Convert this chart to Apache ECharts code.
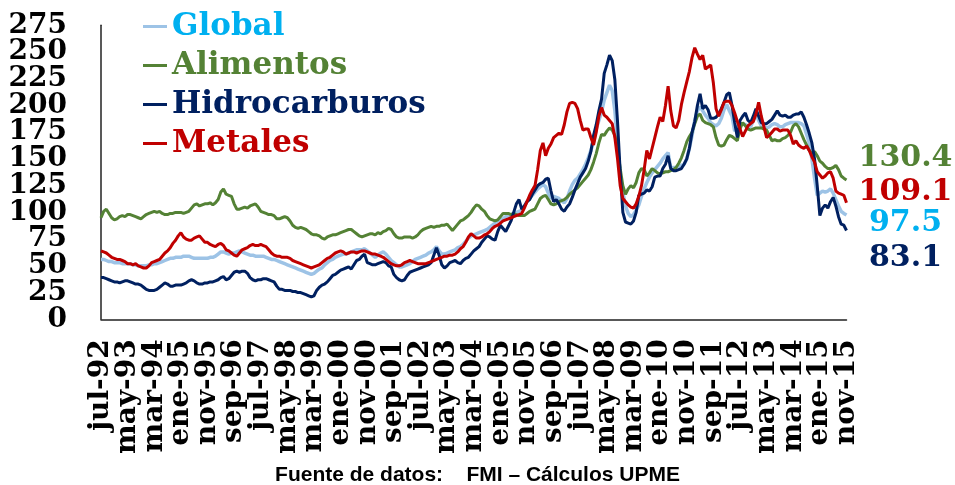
<!DOCTYPE html>
<html>
<head>
<meta charset="utf-8">
<script src="https://cdn.jsdelivr.net/npm/echarts@6/dist/echarts.min.js"></script>
<style>
  html, body { margin: 0; padding: 0; background: #ffffff; }
  #chart { width: 955px; height: 485px; }
</style>
</head>
<body>
<div id="chart"></div>
<script>
// Monthly price indices, jul-92 .. nov-15
const monthNames = ['ene', 'feb', 'mar', 'abr', 'may', 'jun', 'jul', 'ago', 'sep', 'oct', 'nov', 'dic'];
const firstMonth = 6;      // julio
const firstYear = 1992;
const monthCount = 281;

const yTicks = { min: 0, max: 275, step: 25 };

const seriesNames = ['Global', 'Alimentos', 'Hidrocarburos', 'Metales'];

const globalIdx = [
  56, 56, 55, 54, 54, 53, 53, 53, 52, 52,
  52, 52, 51, 51, 50, 50, 50, 50, 51, 51,
  52, 52, 53, 54, 55, 56, 57, 57, 58, 58,
  58, 59, 59, 59, 58, 57, 57, 57, 57, 57,
  57, 58, 58, 59, 61, 63, 63, 62, 61, 62,
  62, 63, 64, 63, 62, 61, 60, 60, 59, 59,
  59, 59, 58, 57, 56, 56, 55, 54, 53, 52,
  51, 50, 49, 48, 47, 46, 45, 44, 43, 42,
  43, 45, 47, 48, 51, 53, 55, 56, 58, 59,
  60, 61, 61, 62, 63, 64, 65, 65, 65, 66,
  64, 62, 60, 58, 60, 62, 63, 61, 58, 55,
  53, 51, 49, 49, 50, 51, 52, 54, 56, 57,
  58, 59, 60, 62, 63, 65, 68, 64, 61, 61,
  62, 63, 64, 65, 67, 68, 70, 73, 76, 78,
  79, 80, 81, 82, 83, 84, 86, 88, 90, 92,
  93, 94, 96, 97, 98, 99, 100, 101, 102, 106,
  110, 113, 116, 119, 122, 124, 126, 124, 118, 113,
  115, 114, 113, 111, 109, 113, 120, 126, 130, 132,
  136, 140, 145, 151, 158, 166, 178, 186, 194, 205,
  212, 219, 214, 195, 165, 135, 119, 106, 99, 96,
  98, 102, 107, 115, 122, 128, 133, 137, 140, 143,
  146, 150, 153, 156, 141, 142, 142, 143, 144, 145,
  150, 160, 172, 186, 195, 199, 195, 191, 188, 184,
  182, 181, 183, 188, 196, 201, 195, 190, 176, 180,
  183, 183, 182, 181, 180, 186, 192, 186, 181, 180,
  179, 180, 182, 183, 182, 180, 180, 182, 183, 184,
  184, 184, 184, 183, 181, 173, 165, 150, 132, 116,
  118, 120, 119, 120, 122, 118, 112, 106, 101, 99,
  97.5
];

const alimentos = [
  95, 101, 103, 99, 95, 93, 94, 96, 97, 96,
  98, 98, 97, 96, 95, 94, 96, 98, 99, 100,
  101, 100, 101, 99, 98, 98, 99, 99, 100, 100,
  100, 99, 100, 101, 104, 107, 108, 106, 107, 108,
  108, 109, 107, 109, 112, 119, 122, 117, 116, 115,
  108, 103, 103, 104, 105, 104, 106, 107, 108, 105,
  101, 100, 99, 98, 98, 97, 94, 94, 95, 96,
  95, 92, 88, 86, 85, 86, 85, 84, 82, 80,
  79, 79, 78, 76, 75, 77, 78, 79, 79, 80,
  81, 82, 83, 84, 84, 82, 80, 78, 77, 78,
  79, 80, 80, 79, 81, 80, 82, 83, 85, 84,
  80, 77, 76, 76, 77, 77, 77, 76, 77, 79,
  82, 84, 85, 86, 87, 86, 87, 87, 88, 88,
  89, 86, 83, 86, 89, 92, 93, 95, 97, 100,
  104, 107, 106, 103, 101, 97, 94, 93, 92, 93,
  96, 99, 99, 99, 98, 99, 98, 97, 97, 97,
  99, 101, 102, 103, 108, 113, 115, 116, 112, 108,
  107, 108, 110, 111, 112, 114, 117, 119, 121, 123,
  126, 129, 132, 135, 140, 147, 155, 165, 173, 172,
  176, 179, 177, 172, 160, 141, 125, 117, 122, 125,
  123, 128, 137, 141, 140, 134, 137, 141, 139, 137,
  136, 137, 138, 138, 139, 140, 142, 146, 151, 158,
  166, 171, 175, 183, 190, 192, 186, 184, 183, 182,
  180, 170, 163, 162, 163, 168, 172, 171, 169, 167,
  178, 184, 181, 178, 177, 178, 179, 179, 179, 178,
  177, 172, 167, 168, 167, 167, 169, 170, 172, 175,
  181, 183, 180, 174, 168, 163, 158, 155, 157, 153,
  148, 146, 143, 141, 141, 142, 144, 140, 134, 132,
  130.4
];

const hidrocarburos = [
  39, 39, 38, 37, 36, 35, 35, 34, 35, 36,
  36, 35, 34, 33, 33, 32, 30, 28, 27, 27,
  27, 28, 30, 32, 34, 33, 31, 31, 32, 32,
  32, 33, 34, 36, 37, 36, 34, 33, 33, 34,
  34, 35, 35, 36, 37, 39, 40, 37, 38, 41,
  44, 45, 44, 45, 45, 43, 39, 37, 36, 37,
  37, 38, 38, 37, 36, 35, 31, 28, 28, 27,
  27, 27, 26, 26, 25, 25, 24, 23, 22, 21,
  22, 27, 30, 32, 33, 35, 38, 41, 42, 44,
  46, 47, 48, 49, 47, 51, 55, 56, 59, 61,
  53, 52, 51, 51, 52, 53, 54, 53, 50, 49,
  42, 39, 37, 36, 37, 41, 44, 45, 46, 47,
  48, 49, 50, 51, 53, 60, 67, 60, 51, 48,
  50, 53, 54, 55, 53, 52, 55, 57, 58, 61,
  64, 66, 68, 72, 75, 78, 77, 75, 74, 82,
  88, 85, 82, 87, 92, 100, 108, 112, 103, 106,
  110, 112, 117, 121, 125, 127, 128, 131, 132, 120,
  110, 112, 108, 103, 101, 105, 108, 114, 121, 127,
  133, 137, 141, 148, 157, 172, 182, 195, 206, 230,
  238, 247, 242, 224, 185, 138, 100, 91, 90, 89,
  92, 100, 116, 117, 118, 121, 120, 124, 133, 134,
  134, 141, 145, 153, 141, 139, 139, 140, 141, 145,
  150, 160, 175, 185, 200, 211, 197, 200, 196, 188,
  188, 189, 192, 197, 203, 210, 212, 200, 184, 170,
  186, 190, 193, 186, 184, 190, 197, 190, 184, 183,
  183, 185, 187, 191, 195, 191, 190, 191, 189, 189,
  191, 192, 192, 194, 189, 182, 174, 165, 150, 125,
  97, 104, 107, 104, 110, 114, 106, 96, 89, 88,
  83.1
];

const metales = [
  64, 63, 62, 60, 58, 57, 56, 56, 55, 54,
  52, 52, 51, 52, 50, 49, 48, 48, 50, 53,
  54, 55, 56, 59, 62, 64, 67, 71, 74, 78,
  81, 77, 75, 74, 74, 76, 77, 78, 75, 72,
  72, 70, 69, 68, 70, 71, 69, 65, 64, 62,
  60, 59, 62, 65, 66, 67, 69, 70, 69, 69,
  70, 69, 68, 65, 62, 60, 59, 59, 58, 58,
  58, 57, 55, 54, 53, 52, 51, 50, 49, 48,
  49, 50, 51, 53, 55, 57, 58, 60, 62, 63,
  64, 63, 61, 62, 63, 63, 62, 63, 64, 64,
  63, 62, 61, 61, 60, 59, 58, 56, 54, 52,
  51, 50, 50, 51, 53, 54, 55, 54, 53, 52,
  52, 52, 52, 53, 54, 55, 56, 57, 58, 59,
  59, 60, 60, 61, 63, 66, 68, 72, 77, 80,
  78, 76, 76, 77, 79, 80, 82, 85, 87, 88,
  90, 92, 93, 94, 95, 96, 97, 98, 99, 104,
  110, 116, 121, 125, 140, 158, 165, 153, 160, 164,
  170, 172, 174, 173, 182, 194, 202, 203, 202, 197,
  186, 177, 178, 178, 170, 163, 175, 190, 198, 191,
  189, 186, 183, 170, 150, 125, 113, 110, 107, 105,
  104, 108, 115, 125, 140, 158, 150, 160, 170, 180,
  189, 185, 200, 218, 195, 181, 179, 186, 201, 212,
  222, 232, 245, 254, 248, 243, 247, 234, 236, 238,
  221, 197, 190, 196, 203, 204, 204, 200, 193, 185,
  178, 171, 176, 181, 183, 185, 192, 203, 190, 180,
  170, 172, 175, 178, 178, 176, 177, 177, 177, 172,
  164, 167, 163, 161, 160, 162, 158, 152, 147, 138,
  135, 132, 134, 137, 138, 132, 120, 118, 117, 116,
  109.1
];

// Category labels: "jul-92", "ago-92", ...
const categories = [];
for (let i = 0; i < monthCount; i++) {
  const m = (firstMonth + i) % 12;
  const yr = firstYear + Math.floor((firstMonth + i) / 12);
  categories.push(monthNames[m] + '-' + String(yr % 100).padStart(2, '0'));
}

const SERIF = '"DejaVu Serif", "Liberation Serif", serif';
const lineColors = ['#9DC3E6', '#548235', '#002060', '#C00000'];
const lineWidths = [3.5, 3, 3, 3];
const legendTextColors = ['#00B0F0', '#548235', '#002060', '#C00000'];
const valueColors = ['#00B0F0', '#548235', '#002060', '#C00000'];
const valueOffsets = [[59, 8], [59, -22], [59, 27.5], [59, -10]];
const seriesData = [globalIdx, alimentos, hidrocarburos, metales];

const labelFont = { color: '#000', fontFamily: SERIF, fontWeight: 'bold', fontSize: 28 };
const xLabelStep = 10;

// The tightly packed tick labels are split over two stacked axes (even and
// odd label slots), so each axis only holds labels that do not touch.
function xAxisFor(parity) {
  return {
    type: 'category',
    data: categories,
    boundaryGap: false,
    gridIndex: 0,
    position: 'bottom',
    axisLine: { show: parity === 0, lineStyle: { color: '#222', width: 1.5 } },
    axisTick: { show: false },
    splitLine: { show: false },
    axisLabel: Object.assign({
      interval: 0,
      rotate: 90,
      margin: 20,
      showMinLabel: parity === 0,
      showMaxLabel: parity === 0,
      formatter: (v, idx) => (idx % (2 * xLabelStep) === parity * xLabelStep ? v : '')
    }, labelFont)
  };
}

function yAxisFor(parity) {
  return {
    type: 'value',
    min: yTicks.min,
    max: yTicks.max,
    interval: yTicks.step,
    position: 'left',
    axisLine: { show: parity === 0, lineStyle: { color: '#222', width: 1.5 } },
    axisTick: { show: false },
    splitLine: { show: false },
    axisLabel: Object.assign({
      margin: 34,
      showMinLabel: parity === 0,
      showMaxLabel: parity === 1,
      formatter: v => (Math.round(v / yTicks.step) % 2 === parity ? String(v) : '')
    }, labelFont)
  };
}

const chart = echarts.init(document.getElementById('chart'), null, { renderer: 'canvas' });

chart.setOption({
  backgroundColor: '#ffffff',
  animation: false,
  grid: { left: 101, right: 108.5, top: 25.3, bottom: 165.7, containLabel: false },
  legend: {
    orient: 'vertical',
    left: 143,
    top: 11,
    padding: 0,
    itemWidth: 24,
    itemHeight: 3,
    itemGap: 8,
    icon: 'rect',
    selectedMode: false,
    data: seriesNames.map((n, k) => ({
      name: n,
      textStyle: { color: legendTextColors[k] }
    })),
    textStyle: { fontFamily: SERIF, fontWeight: 'bold', fontSize: 31 }
  },
  xAxis: [xAxisFor(0), xAxisFor(1)],
  yAxis: [yAxisFor(0), yAxisFor(1)],
  series: seriesNames.map((n, k) => ({
    name: n,
    type: 'line',
    xAxisIndex: 0,
    yAxisIndex: 0,
    data: seriesData[k],
    showSymbol: false,
    symbol: 'none',
    smooth: false,
    color: lineColors[k],
    lineStyle: { color: lineColors[k], width: lineWidths[k] },
    endLabel: {
      show: true,
      formatter: p => Number(p.value).toFixed(1),
      color: valueColors[k],
      fontFamily: SERIF,
      fontWeight: 'bold',
      fontSize: 30,
      align: 'center',
      verticalAlign: 'middle',
      distance: 0,
      offset: valueOffsets[k]
    }
  })),
  graphic: [{
    type: 'text',
    left: 'center',
    top: 465,
    style: {
      text: 'Fuente de datos:    FMI \u2013 C\u00e1lculos UPME',
      fill: '#000',
      font: 'bold 21px "Liberation Sans", Arial, sans-serif'
    }
  }]
});
</script>
</body>
</html>
